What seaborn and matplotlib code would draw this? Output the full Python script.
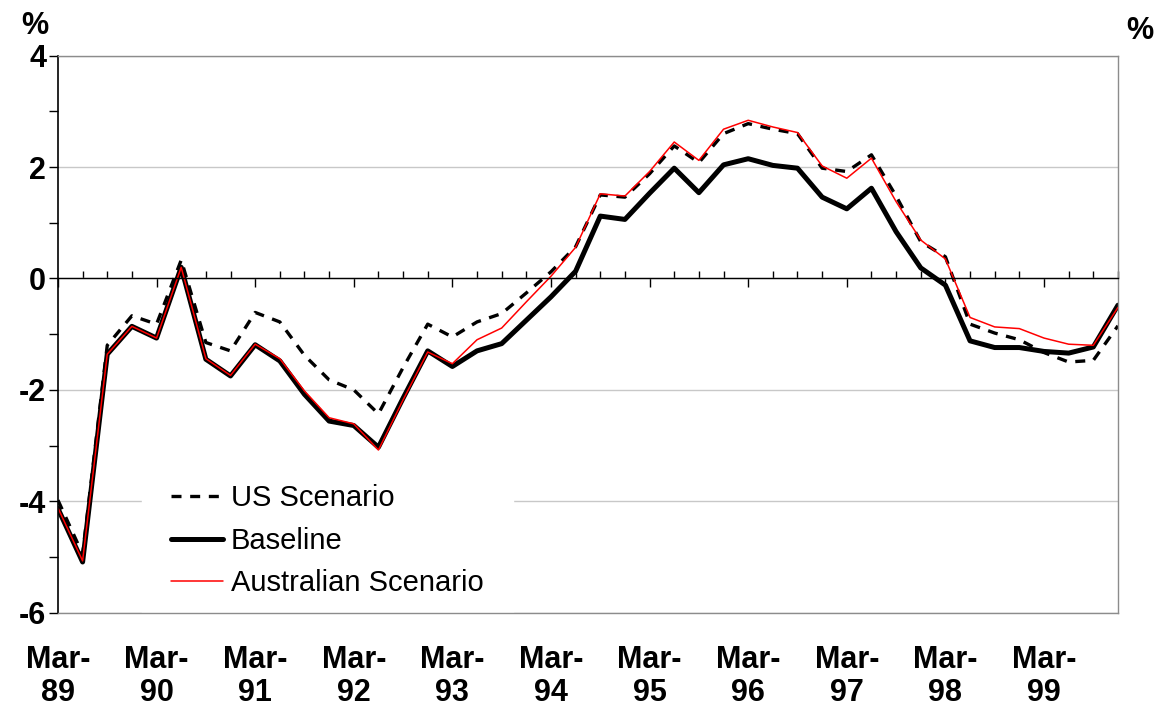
import numpy as np
import pandas as pd
import matplotlib
matplotlib.use('Agg')
import matplotlib.pyplot as plt
import seaborn as sns

# quarterly, Mar-89 .. Dec-99
us_scenario = [-3.98, -4.95, -1.20, -0.67, -0.82, 0.33, -1.15, -1.30, -0.61, -0.78,
               -1.38, -1.82, -2.00, -2.43, -1.60, -0.82, -1.05, -0.78, -0.63, -0.26,
               0.12, 0.57, 1.50, 1.46, 1.88, 2.38, 2.08, 2.60, 2.78, 2.68,
               2.60, 1.98, 1.92, 2.22, 1.48, 0.66, 0.39, -0.82, -0.98, -1.10,
               -1.33, -1.50, -1.47, -0.85]
baseline = [-4.13, -5.09, -1.36, -0.86, -1.07, 0.20, -1.45, -1.75, -1.19, -1.48,
            -2.08, -2.56, -2.64, -3.03, -2.15, -1.30, -1.58, -1.30, -1.17, -0.75,
            -0.33, 0.13, 1.12, 1.06, 1.53, 1.98, 1.54, 2.04, 2.15, 2.03,
            1.98, 1.46, 1.25, 1.62, 0.84, 0.19, -0.12, -1.12, -1.24, -1.24,
            -1.31, -1.34, -1.23, -0.48]
australian = [-4.12, -5.07, -1.36, -0.86, -1.07, 0.20, -1.44, -1.74, -1.18, -1.44,
              -2.02, -2.50, -2.61, -3.08, -2.18, -1.32, -1.53, -1.10, -0.89, -0.42,
              0.04, 0.56, 1.52, 1.48, 1.92, 2.45, 2.12, 2.68, 2.84, 2.72,
              2.62, 2.02, 1.80, 2.16, 1.38, 0.69, 0.35, -0.70, -0.87, -0.90,
              -1.07, -1.18, -1.20, -0.52]
year_labels = ['Mar-\n89', 'Mar-\n90', 'Mar-\n91', 'Mar-\n92', 'Mar-\n93', 'Mar-\n94',
               'Mar-\n95', 'Mar-\n96', 'Mar-\n97', 'Mar-\n98', 'Mar-\n99']

sns.set_theme(style='white')
plt.rcParams['font.family'] = ['Liberation Sans', 'DejaVu Sans']
plt.rcParams['font.weight'] = 'bold'
plt.rcParams['axes.unicode_minus'] = False
plt.rcParams['text.color'] = 'black'
plt.rcParams['xtick.color'] = 'black'
plt.rcParams['ytick.color'] = 'black'

q = np.arange(len(baseline))
df = pd.DataFrame({'q': q, 'us': us_scenario, 'base': baseline, 'aus': australian})

fig = plt.figure(figsize=(11.66, 7.11), dpi=100)
ax = fig.add_axes([0.0497, 0.1383, 0.9091, 0.7834])

sns.lineplot(data=df, x='q', y='us', ax=ax, color='black', lw=2.4,
             linestyle=(0, (3, 2.6)), dash_capstyle='butt', label='US Scenario')
sns.lineplot(data=df, x='q', y='base', ax=ax, color='black', lw=3.6, label='Baseline')
sns.lineplot(data=df, x='q', y='aus', ax=ax, color='#ff0000', lw=1.1,
             label='Australian Scenario')

ax.set_xlim(0, len(baseline) - 1)
ax.set_ylim(-6, 4)
ax.set_xlabel('')
ax.set_ylabel('')

# y axis
ax.set_yticks(range(-6, 5, 2))
ax.set_yticks(range(-5, 4, 2), minor=True)
ax.tick_params(axis='y', which='both', direction='out', length=6.5, width=1,
               color='black', labelcolor='black', left=True, pad=2, labelsize=22)
ax.grid(axis='y', which='major', color='#c8c8c8', lw=1)
ax.grid(axis='x', visible=False)

# x axis crossing at zero, ticks only
ax.spines['bottom'].set_position(('data', 0))
ax.spines['bottom'].set_color('black')
ax.spines['bottom'].set_linewidth(1)
ax.set_xticks(range(0, len(baseline), 4))
ax.set_xticks(q, minor=True)
ax.tick_params(axis='x', which='major', direction='out', length=6.5, width=1,
               color='black', bottom=True, labelbottom=False)
ax.tick_params(axis='x', which='minor', direction='in', length=5, width=1,
               color='black', bottom=True)

ax.spines['left'].set_color('black')
ax.spines['left'].set_linewidth(1.2)
for s in ['top', 'right']:
    ax.spines[s].set_visible(True)
    ax.spines[s].set_color('#8c8c8c')
    ax.spines[s].set_linewidth(1)

# category labels along the bottom of the plot area
sec = ax.secondary_xaxis('bottom')
sec.set_xticks(range(0, len(baseline), 4), year_labels)
sec.tick_params(axis='x', length=0, pad=23, labelsize=22, labelcolor='black')
for lbl in sec.get_xticklabels():
    lbl.set_linespacing(1.15)
sec.spines['bottom'].set_color('#8c8c8c')
sec.spines['bottom'].set_linewidth(1)
sec.patch.set_visible(False)
sec.set_zorder(3)

leg = ax.legend(loc='upper left', bbox_to_anchor=(0.079, 0.283), borderaxespad=0,
                frameon=True, facecolor='white', edgecolor='white', framealpha=1,
                fancybox=False, prop={'weight': 'normal', 'size': 21},
                handlelength=1.8, handletextpad=0.25, labelspacing=0.5,
                borderpad=1.0)
leg.set_zorder(2.2)
for t in leg.get_texts():
    t.set_color('black')

fig.text(35 / 1166, 1 - 26 / 711, '%', ha='center', va='center', fontsize=22,
         fontweight='bold')
fig.text(1140 / 1166, 1 - 31 / 711, '%', ha='center', va='center', fontsize=22,
         fontweight='bold')

fig.savefig('out.png', dpi=100)
